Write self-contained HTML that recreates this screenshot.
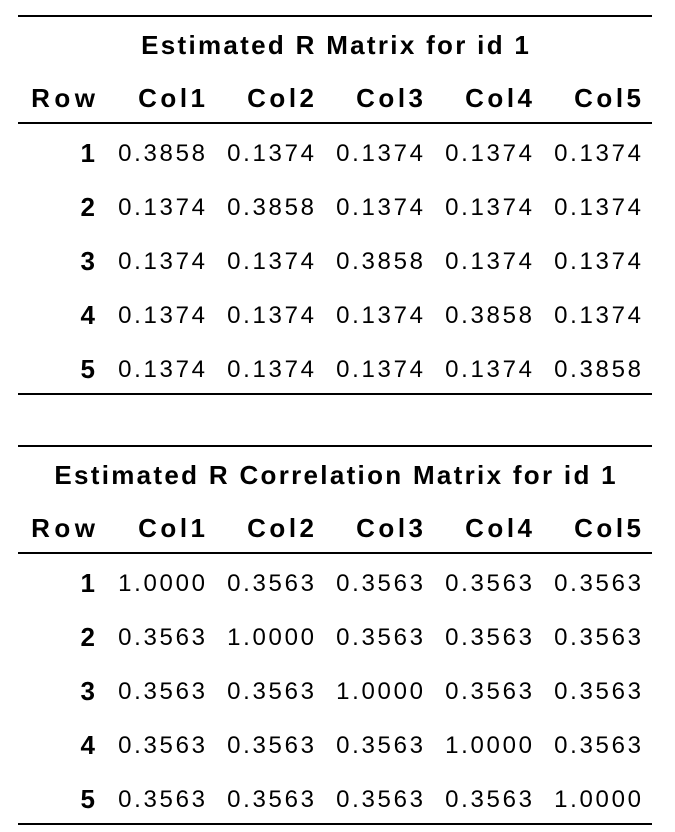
<!DOCTYPE html>
<html><head><meta charset="utf-8"><style>
body{margin:0;background:#fff;width:675px;height:832px;position:relative;overflow:hidden;font-family:"Liberation Sans","DejaVu Sans",sans-serif;color:#000}
.ln{position:absolute;left:18px;width:634px;height:2px;background:#000}
.t{position:absolute;white-space:nowrap;line-height:30px;height:30px}
.b{font-weight:bold;font-size:26px}
.n{font-size:24px}
</style></head><body>
<script>
const tables=[
 {title:"Estimated R Matrix for id 1",top:15,vals:[["0.3858","0.1374","0.1374","0.1374","0.1374"],["0.1374","0.3858","0.1374","0.1374","0.1374"],["0.1374","0.1374","0.3858","0.1374","0.1374"],["0.1374","0.1374","0.1374","0.3858","0.1374"],["0.1374","0.1374","0.1374","0.1374","0.3858"]]},
 {title:"Estimated R Correlation Matrix for id 1",top:445,vals:[["1.0000","0.3563","0.3563","0.3563","0.3563"],["0.3563","1.0000","0.3563","0.3563","0.3563"],["0.3563","0.3563","1.0000","0.3563","0.3563"],["0.3563","0.3563","0.3563","1.0000","0.3563"],["0.3563","0.3563","0.3563","0.3563","1.0000"]]}
];
const headers=["Row","Col1","Col2","Col3","Col4","Col5"];
const rights=[95,205,314,423,532,641];
function add(cls,txt,right,cy,name,ls){
 const d=document.createElement('div');d.className='t '+cls;d.textContent=txt;
 d.style.top=(cy-15)+'px';
 d.style.letterSpacing=ls+'px';
 if(right===null){d.style.left='0';d.style.width='670px';d.style.textAlign='center';d.style.textIndent=ls+'px';}
 else{d.style.right=(675-right-ls)+'px';}
 
 
 document.body.appendChild(d);
}
function line(y,name){
 const l=document.createElement('div');l.className='ln';l.style.top=y+'px';
 
 
 document.body.appendChild(l);
}
tables.forEach((tb,ti)=>{
 const T=tb.top;
 line(T,'table-'+(ti+1)+'-top-rule');
 add('b',tb.title,null,T+30,'table-'+(ti+1)+'-title',2.3);
 headers.forEach((h,i)=>add('b',h,rights[i],T+83,'header-'+h.toLowerCase(),i===0?4.5:3.5));
 line(T+107,'table-'+(ti+1)+'-header-rule');
 tb.vals.forEach((r,ri)=>{
  const cy=T+138+ri*54;
  add('b',String(ri+1),rights[0],cy,'row-label-'+(ri+1),0);
  r.forEach((v,ci)=>add('n',v,rights[ci+1],cy+0.5,'cell-r'+(ri+1)+'-c'+(ci+1),2.7));
 });
 line(T+378,'table-'+(ti+1)+'-bottom-rule');
});
</script>
</body></html>
